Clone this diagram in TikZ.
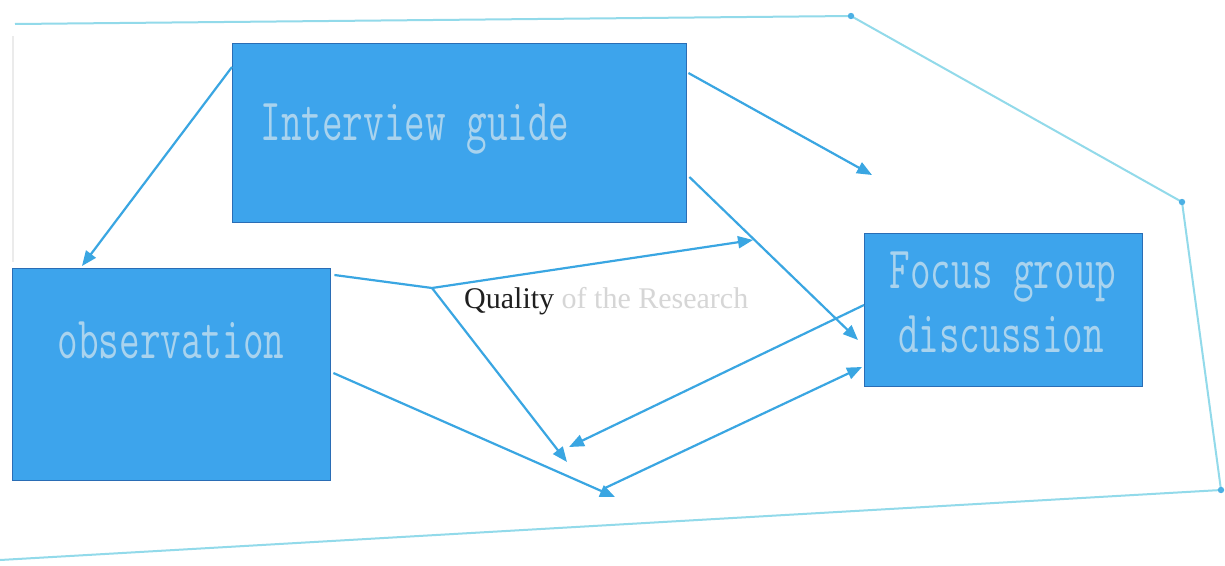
\documentclass[tikz,border=0pt]{standalone}
\usepackage{fontspec}
\setmainfont{Liberation Serif}
\usetikzlibrary{arrows.meta,calc}
\definecolor{boxfill}{HTML}{3DA4EC}
\definecolor{boxedge}{HTML}{2A6DB5}
\definecolor{arrowc}{HTML}{3AA6E2}
\definecolor{outerc}{HTML}{92DAEA}
\definecolor{ghost}{HTML}{A9D3EE}
\definecolor{greytext}{HTML}{D6D6D6}
\tikzset{
  boxnode/.style={draw=boxedge, line width=1.4pt, fill=boxfill, anchor=north west, inner sep=0pt},
  boxtext/.style={text=ghost, font=\ttfamily\fontsize{40}{44}\selectfont, align=center, yscale=1.5, inner sep=0pt},
  conn/.style={draw=arrowc, line width=2.2pt, -{Triangle[length=15pt,width=12pt]}},
  plainconn/.style={draw=arrowc, line width=2.2pt},
  outer/.style={draw=outerc, line width=2pt},
  dotc/.style={fill=arrowc!80!outerc, draw=none}
}
\begin{document}
\begin{tikzpicture}[x=1pt,y=-1pt]
\useasboundingbox (0,0) rectangle (1225,565);
\fill[white] (0,0) rectangle (1225,565);
% outer frame
\coordinate (o1) at (15,24);
\coordinate (o2) at (851,16);
\coordinate (o3) at (1182,202);
\coordinate (o4) at (1221,490);
\coordinate (o5) at (0,560);
\draw[outer] (o1) -- (o2) -- (o3) -- (o4) -- (o5);
\draw[draw=black!8, line width=1.4pt] (13,36) -- (13,262);
\fill[dotc] (o2) circle (3.2);
\fill[dotc] (o3) circle (3.2);
\fill[dotc] (o4) circle (3.2);
% boxes
\node[boxnode, minimum width=454pt, minimum height=179pt] (ig) at (232,43) {};
\node[boxnode, minimum width=318pt, minimum height=212pt] (obs) at (12,268) {};
\node[boxnode, minimum width=278pt, minimum height=153pt] (fgd) at (864,233) {};
\node[boxtext] (igt) at (415,129) {Interview guide};
\node[boxtext] (obst) at (171,340) {observation};
\node[boxtext] (fgdt1) at (1003,277) {Focus group};
\node[boxtext] (fgdt2) at (1001,334) {discussion};
% label
\node[font=\fontsize{30}{34}\selectfont, text=black!88, inner sep=0pt, anchor=west] (q) at (464,301) {Quality \textcolor{greytext}{of the Research}};
% free coordinates
\coordinate (t1) at (82,266);
\coordinate (t2) at (872,175);
\coordinate (t3) at (858,340);
\coordinate (v) at (432,288);
\coordinate (t4) at (753,240);
\coordinate (t5) at (567,462);
\coordinate (t6) at (615,497);
\coordinate (t7) at (569,447);
\coordinate (s8) at (605,488);
% connectors
\draw[conn] ($(ig.north west)+(0,24)$) -- (t1);
\draw[conn] ($(ig.north east)+(1,30)$) -- (t2);
\draw[conn] ($(ig.north east)+(2,134)$) -- (t3);
\draw[plainconn] ($(obs.north east)+(3,7)$) -- (v);
\draw[conn] (v) -- (t4);
\draw[conn] (v) -- (t5);
\draw[conn] ($(obs.north east)+(2,105)$) -- (t6);
\draw[conn] ($(fgd.north west)+(0,72)$) -- (t7);
\draw[conn] (s8) -- ($(fgd.north west)+(-2,134)$);
\end{tikzpicture}
\end{document}
